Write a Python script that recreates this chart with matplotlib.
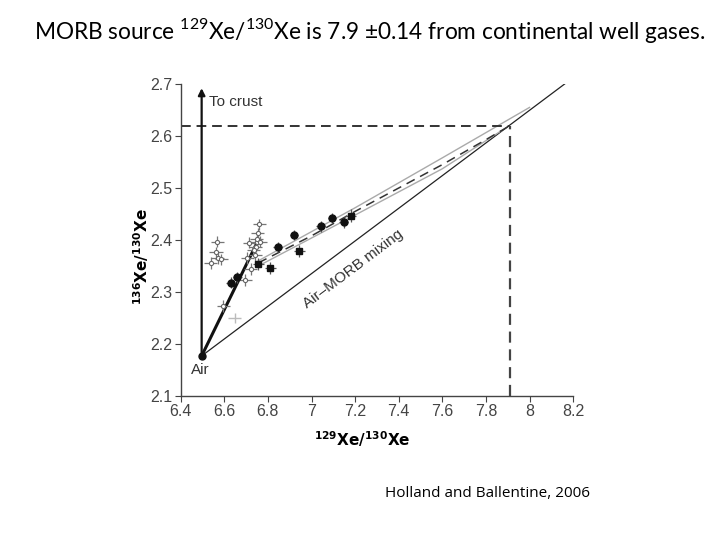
import numpy as np
import matplotlib
matplotlib.use("Agg")
from matplotlib import pyplot as plt

# values (129Xe/130Xe, 136Xe/130Xe)
air = (6.496, 2.177)
morb = (7.91, 2.62)
mix_end = (8.18, 2.706)
crust_top = 2.692
thick_end = (6.756, 2.40)

# filled points (well gases)
fill_x = [6.629, 6.660, 6.845, 6.920, 7.042, 7.094, 7.147]
fill_y = [2.318, 2.328, 2.386, 2.410, 2.426, 2.442, 2.434]
sq_x = [6.756, 6.810, 6.943, 7.179]
sq_y = [2.354, 2.346, 2.379, 2.447]

# open points
open_x = [6.538, 6.568, 6.562, 6.570, 6.586, 6.596, 6.695, 6.706, 6.721,
          6.715, 6.741, 6.745, 6.748, 6.753, 6.761, 6.748, 6.764, 6.735]
open_y = [2.356, 2.397, 2.376, 2.365, 2.363, 2.273, 2.323, 2.365, 2.344,
          2.395, 2.371, 2.387, 2.397, 2.413, 2.430, 2.402, 2.397, 2.380]
pale_x = [6.648]
pale_y = [2.250]

# dashed best-fit curve and grey envelope
fit_x = [6.756, 7.0, 7.2, 7.4, 7.6, 7.8, 7.91]
fit_y = [2.356, 2.408, 2.455, 2.500, 2.545, 2.593, 2.620]
up_x = [6.756, 7.2, 7.6, 8.0]
up_y = [2.360, 2.462, 2.558, 2.655]
lo_x = [6.756, 7.2, 7.6, 7.87]
lo_y = [2.350, 2.448, 2.537, 2.610]

fig = plt.figure(figsize=(7.2, 5.4), dpi=100)
ax = fig.add_axes([0.251, 0.2667, 0.545, 0.5777])

tc = '#444444'
ax.plot([air[0], mix_end[0]], [air[1], mix_end[1]], color='#222222', lw=0.9)
ax.plot(up_x, up_y, color='#aaaaaa', lw=1.0)
ax.plot(lo_x, lo_y, color='#aaaaaa', lw=1.0)
ax.plot(fit_x, fit_y, color='#333333', lw=1.1, dashes=(6, 4))
ax.plot([6.4, morb[0]], [morb[1], morb[1]], color='#333333', lw=1.4, dashes=(5, 3))
ax.plot([morb[0], morb[0]], [2.1, morb[1]], color='#444444', lw=1.6, dashes=(5, 3))
ax.plot([air[0], thick_end[0]], [air[1], thick_end[1]], color='#111111', lw=2.2)
ax.annotate('', xy=(air[0], crust_top), xytext=air,
            arrowprops=dict(arrowstyle='-|>', color='#111111', lw=1.6,
                            mutation_scale=10, shrinkA=0, shrinkB=0))

ax.errorbar(open_x, open_y, xerr=0.03, yerr=0.011, fmt='o', ms=3, mfc='white',
            mec='#666666', mew=0.8, ecolor='#777777', elinewidth=0.9, capsize=0)
ax.errorbar(pale_x, pale_y, xerr=0.03, yerr=0.01, fmt='none',
            ecolor='#bbbbbb', elinewidth=1.0)
ax.errorbar(fill_x, fill_y, xerr=0.02, yerr=0.01, fmt='o', ms=5, color='#111111',
            ecolor='#555555', elinewidth=0.9)
ax.errorbar(sq_x, sq_y, xerr=0.025, yerr=0.012, fmt='s', ms=4.5, color='#111111',
            ecolor='#555555', elinewidth=0.9)
ax.plot(*air, 'o', color='#111111', ms=5)

ax.text(6.53, 2.666, 'To crust', fontsize=11, color='#333333', va='center',
        family='Liberation Sans')
ax.text(6.49, 2.15, 'Air', fontsize=11, color='#333333', ha='center', va='center',
        family='Liberation Sans')
ax.text(7.19, 2.345, 'Air\u2013MORB mixing', fontsize=11, color='#333333',
        ha='center', va='center', rotation=37, family='Liberation Sans')

ax.set_xlim(6.4, 8.2)
ax.set_ylim(2.1, 2.7)
ax.set_xticks([6.4, 6.6, 6.8, 7, 7.2, 7.4, 7.6, 7.8, 8, 8.2])
ax.set_xticklabels(['6.4', '6.6', '6.8', '7', '7.2', '7.4', '7.6', '7.8', '8', '8.2'])
ax.set_yticks([2.1, 2.2, 2.3, 2.4, 2.5, 2.6, 2.7])
ax.spines['top'].set_visible(False)
ax.spines['right'].set_visible(False)
for s in ['left', 'bottom']:
    ax.spines[s].set_color(tc)
    ax.spines[s].set_linewidth(1.0)
ax.tick_params(colors=tc, labelsize=11.5, length=4, pad=2)
for lab in ax.get_xticklabels() + ax.get_yticklabels():
    lab.set_family('Liberation Sans')

ax.set_xlabel(r'$^{\mathregular{129}}$Xe/$^{\mathregular{130}}$Xe', fontsize=11,
              fontweight='bold')
ax.set_ylabel(r'$^{\mathregular{136}}$Xe/$^{\mathregular{130}}$Xe', fontsize=11,
              fontweight='bold')
ax.xaxis.set_label_coords(0.462, -0.108)
ax.yaxis.set_label_coords(-0.075, 0.446)

fig.text(0.513, 0.944, r'MORB source $^{\mathregular{129}}$Xe/$^{\mathregular{130}}$Xe'
         ' is 7.9 \u00b10.14 from continental well gases.',
         ha='center', va='center', fontsize=16.3, family='Lato')
fig.text(0.535, 0.087, 'Holland and Ballentine, 2006', ha='left', va='center',
         fontsize=11, family='Open Sans')

fig.savefig('out.png', dpi=100)
